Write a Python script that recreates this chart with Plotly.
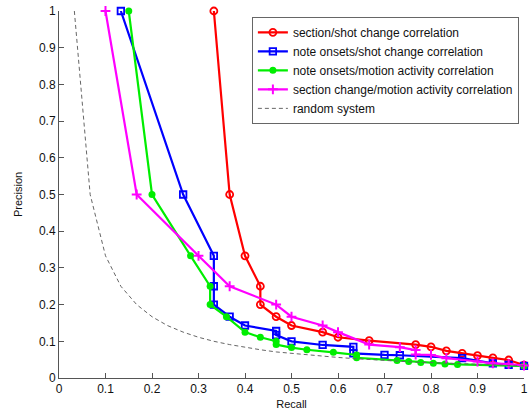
import plotly.graph_objects as go

# Precision/recall curves for the four correlation methods
sec_shot_recall = [0.333, 0.367, 0.4, 0.433, 0.433, 0.467, 0.5, 0.567, 0.6, 0.667,
                   0.767, 0.8, 0.833, 0.867, 0.9, 0.933, 0.967, 1.0]
sec_shot_prec = [1.0, 0.5, 0.333, 0.25, 0.2, 0.167, 0.143, 0.125, 0.111, 0.102,
                 0.091, 0.085, 0.074, 0.067, 0.061, 0.055, 0.049, 0.035]

note_shot_recall = [0.133, 0.267, 0.333, 0.333, 0.333, 0.367, 0.4, 0.467, 0.467, 0.5,
                    0.567, 0.633, 0.633, 0.7, 0.733, 0.867, 0.933, 0.967, 1.0]
note_shot_prec = [1.0, 0.5, 0.333, 0.25, 0.2, 0.167, 0.143, 0.128, 0.117, 0.1,
                  0.09, 0.085, 0.067, 0.063, 0.062, 0.054, 0.04, 0.036, 0.033]

note_motion_recall = [0.15, 0.2, 0.283, 0.325, 0.325, 0.36, 0.4, 0.433, 0.467, 0.467,
                      0.5, 0.533, 0.59, 0.64, 0.64, 0.727, 0.752, 0.778, 0.805, 0.83,
                      0.857, 1.0]
note_motion_prec = [1.0, 0.5, 0.333, 0.25, 0.2, 0.167, 0.125, 0.111, 0.1, 0.091,
                    0.083, 0.077, 0.07, 0.063, 0.055, 0.048, 0.045, 0.042, 0.04, 0.038,
                    0.037, 0.033]

sec_motion_recall = [0.1, 0.167, 0.3, 0.367, 0.467, 0.5, 0.567, 0.6, 0.667, 0.733,
                     0.767, 0.767, 0.8, 0.833, 0.9, 0.933, 0.967, 1.0]
sec_motion_prec = [1.0, 0.5, 0.333, 0.25, 0.2, 0.167, 0.143, 0.125, 0.091, 0.084,
                   0.076, 0.064, 0.063, 0.054, 0.045, 0.04, 0.038, 0.034]

random_recall = [0.033, 0.067, 0.1, 0.133, 0.167, 0.2, 0.233, 0.267, 0.3, 0.333,
                 0.367, 0.4, 0.433, 0.467, 0.5, 0.533, 0.567, 0.6, 0.633, 0.667,
                 0.7, 0.733, 0.767, 0.8, 0.833, 0.867, 0.9, 0.933, 0.967, 1.0]
random_prec = [1.0, 0.5, 0.333, 0.25, 0.2, 0.167, 0.143, 0.125, 0.111, 0.1,
               0.091, 0.083, 0.077, 0.071, 0.067, 0.063, 0.059, 0.056, 0.053, 0.05,
               0.048, 0.045, 0.043, 0.042, 0.04, 0.038, 0.037, 0.036, 0.034, 0.033]

tick_vals = [0, 0.1, 0.2, 0.3, 0.4, 0.5, 0.6, 0.7, 0.8, 0.9, 1]
tick_text = ["0", "0.1", "0.2", "0.3", "0.4", "0.5", "0.6", "0.7", "0.8", "0.9", "1"]

FONT = "Liberation Sans, Arial, sans-serif"

fig = go.Figure()

fig.add_trace(go.Scatter(
    x=sec_shot_recall, y=sec_shot_prec, mode="lines+markers",
    name="section/shot change correlation",
    line=dict(color="#ff0000", width=2.2),
    marker=dict(symbol="circle-open", size=7, color="#ff0000", line=dict(width=1.8)),
    cliponaxis=False,
))
fig.add_trace(go.Scatter(
    x=note_shot_recall, y=note_shot_prec, mode="lines+markers",
    name="note onsets/shot change correlation",
    line=dict(color="#0000ff", width=2.2),
    marker=dict(symbol="square-open", size=6.5, color="#0000ff", line=dict(width=1.8)),
    cliponaxis=False,
))
fig.add_trace(go.Scatter(
    x=note_motion_recall, y=note_motion_prec, mode="lines+markers",
    name="note onsets/motion activity correlation",
    line=dict(color="#00ee00", width=2.2),
    marker=dict(symbol="circle", size=7, color="#00ee00"),
    cliponaxis=False,
))
fig.add_trace(go.Scatter(
    x=sec_motion_recall, y=sec_motion_prec, mode="lines+markers",
    name="section change/motion activity correlation",
    line=dict(color="#ff00ff", width=2.2),
    marker=dict(symbol="cross-thin-open", size=7, color="#ff00ff",
                line=dict(width=2, color="#ff00ff")),
    cliponaxis=False,
))
fig.add_trace(go.Scatter(
    x=random_recall, y=random_prec, mode="lines",
    name="random system",
    line=dict(color="#666666", width=1, dash="4px,3px"),
    cliponaxis=False,
))

axis_common = dict(
    range=[0, 1], tickmode="array", tickvals=tick_vals, ticktext=tick_text,
    ticks="inside", ticklen=5, tickcolor="#555555", showline=True, linecolor="#555555",
    linewidth=1, showgrid=False, zeroline=False, mirror=False,
    tickfont=dict(family=FONT, size=12, color="#111111"),
)

fig.update_layout(
    width=532, height=412,
    margin=dict(l=59, r=4, t=11, b=32),
    paper_bgcolor="white", plot_bgcolor="white",
    font=dict(family=FONT, size=11, color="#111111"),
    xaxis=dict(**axis_common, title=dict(text="Recall", standoff=4,
                                         font=dict(family=FONT, size=11))),
    yaxis=dict(**axis_common, title=dict(text="Precision", standoff=14,
                                         font=dict(family=FONT, size=11))),
    legend=dict(
        x=0.989, y=0.984, xanchor="right", yanchor="top",
        bgcolor="white", bordercolor="#666666", borderwidth=1,
        font=dict(family=FONT, size=12, color="#111111"),
        itemwidth=30, tracegroupgap=0,
    ),
)

fig.write_html("out.html")
